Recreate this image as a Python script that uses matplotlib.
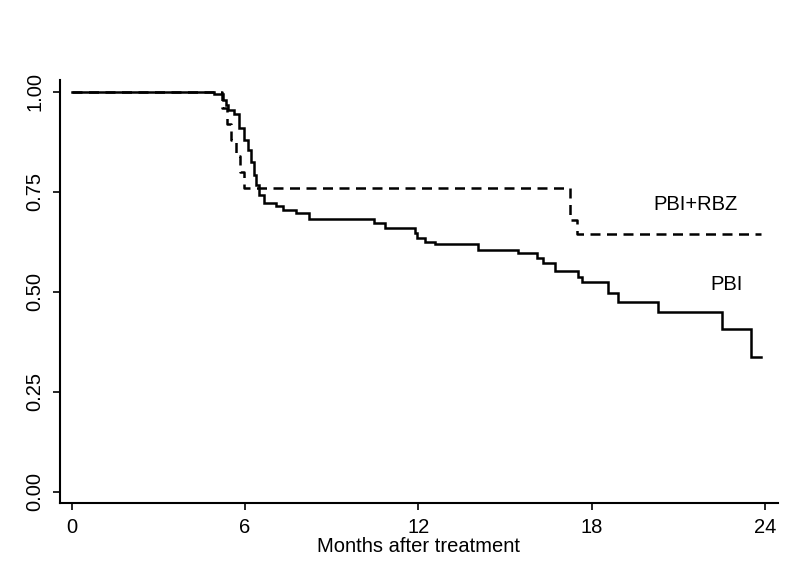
import matplotlib
matplotlib.use("Agg")
import matplotlib.pyplot as plt
from matplotlib import font_manager

# ---- data ----
pbi_time = [0, 4.93, 5.24, 5.34, 5.41, 5.62, 5.79, 5.97, 6.10, 6.21, 6.31, 6.38,
            6.48, 6.66, 7.07, 7.31, 7.76, 8.21, 10.45, 10.86, 11.90, 11.97, 12.24,
            12.59, 14.07, 15.45, 16.10, 16.31, 16.72, 17.52, 17.66, 18.55, 18.90,
            20.28, 22.52, 23.52, 23.86]
pbi_surv = [1.0, 0.995, 0.98, 0.9675, 0.955, 0.945, 0.91, 0.88, 0.855, 0.825, 0.7925,
            0.7675, 0.7425, 0.7225, 0.715, 0.705, 0.6975, 0.6825, 0.6725, 0.66,
            0.6475, 0.635, 0.625, 0.62, 0.605, 0.5975, 0.585, 0.5725, 0.5525, 0.5375,
            0.525, 0.4975, 0.475, 0.45, 0.4075, 0.3375, 0.3375]

rbz_time = [0, 5.20, 5.38, 5.52, 5.68, 5.82, 5.95, 17.24, 17.50, 23.86]
rbz_surv = [1.0, 0.96, 0.92, 0.88, 0.84, 0.80, 0.76, 0.68, 0.645, 0.645]

x_ticks = [0, 6, 12, 18, 24]
y_ticks = [0.0, 0.25, 0.50, 0.75, 1.00]
y_ticklabels = ["0.00", "0.25", "0.50", "0.75", "1.00"]
x_label = "Months after treatment"
label_rbz = "PBI+RBZ"
label_pbi = "PBI"

# ---- font ----
avail = {f.name for f in font_manager.fontManager.ttflist}
fam = "Liberation Sans Narrow" if "Liberation Sans Narrow" in avail else "Liberation Sans"
plt.rcParams["font.family"] = [fam, "DejaVu Sans"]

fig = plt.figure(figsize=(8.0, 5.82), dpi=100)
ax = fig.add_axes([60 / 800, 1 - 503 / 582, (778 - 60) / 800, (503 - 80) / 582])

ax.step(pbi_time, pbi_surv, where="post", color="black", lw=1.8, solid_joinstyle="miter")
ax.step(rbz_time, rbz_surv, where="post", color="black", lw=1.8,
        linestyle=(0, (4.0, 2.6)))

ax.set_xlim(-0.405, 24.45)
ax.set_ylim(-0.028, 1.029)

ax.set_xticks(x_ticks)
ax.set_yticks(y_ticks)
ax.set_yticklabels(y_ticklabels, rotation=90, va="center")

for s in ["top", "right"]:
    ax.spines[s].set_visible(False)
for s in ["left", "bottom"]:
    ax.spines[s].set_linewidth(1.5)

ax.tick_params(axis="both", direction="out", length=5, width=1.2,
               labelsize=14.5, pad=6)
ax.set_xlabel(x_label, fontsize=14.5, labelpad=0)

ax.text(21.6, 0.7175, label_rbz, fontsize=14.5, ha="center", va="center")
ax.text(22.66, 0.5175, label_pbi, fontsize=14.5, ha="center", va="center")

fig.savefig("out.png", dpi=100, facecolor="white")
